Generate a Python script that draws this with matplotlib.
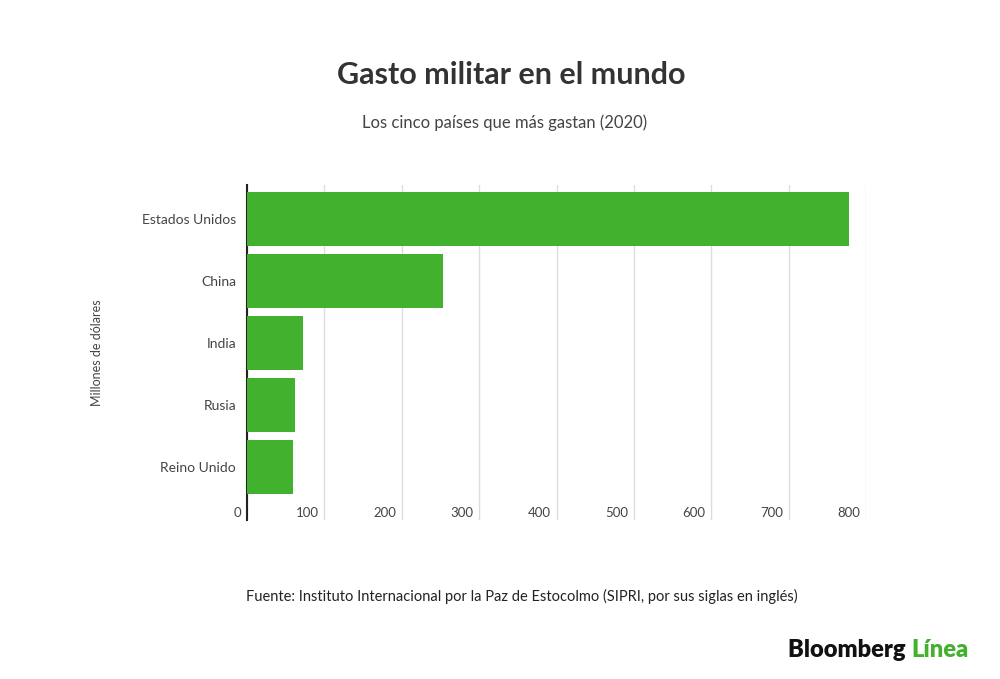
import matplotlib.pyplot as plt
from matplotlib.transforms import ScaledTranslation, blended_transform_factory

countries = ['Estados Unidos', 'China', 'India', 'Rusia', 'Reino Unido']
gasto = [778, 253, 73, 62, 59]
ticks = [0, 100, 200, 300, 400, 500, 600, 700, 800]

plt.rcParams['font.family'] = ['Lato', 'DejaVu Sans']
fig = plt.figure(figsize=(10, 6.79), dpi=100)
ax = fig.add_axes([0.247, 0.234, 0.619, 0.493])

y = list(range(len(countries)))
ax.barh(y, gasto, height=0.87, color='#42b12e', zorder=3)
ax.set_yticks(y)
ax.set_yticklabels(countries, fontsize=10, color='#444444')
ax.set_ylim(4.85, -0.55)
ax.set_xlim(0, 800)
ax.set_xticks(ticks)
ax.set_xticklabels([])
trans = blended_transform_factory(ax.transData, ax.transAxes) + \
    ScaledTranslation(-4 / 72, 0, fig.dpi_scale_trans)
for t in ticks:
    ax.text(t, 0.02, str(t), transform=trans, ha='right', va='center',
            fontsize=9.5, color='#444444')
ax.tick_params(axis='x', length=0)
ax.tick_params(axis='y', length=0, pad=8)
ax.grid(axis='x', color='#dddddd', linewidth=1, zorder=0)
for s in ['top', 'right', 'bottom']:
    ax.spines[s].set_visible(False)
ax.spines['left'].set_color('#222222')
ax.spines['left'].set_linewidth(1.5)
ax.set_ylabel('Millones de dólares', fontsize=9, color='#444444', labelpad=28)

fig.text(0.511, 0.89, 'Gasto militar en el mundo', ha='center', va='center',
         fontsize=22, fontweight='bold', color='#333333')
fig.text(0.505, 0.819, 'Los cinco países que más gastan (2020)', ha='center', va='center',
         fontsize=12, color='#444444')
fig.text(0.246, 0.122, 'Fuente: Instituto Internacional por la Paz de Estocolmo (SIPRI, por sus siglas en inglés)',
         ha='left', va='center', fontsize=10.5, color='#222222')
fig.text(0.911, 0.043, 'Bloomberg ', ha='right', va='center', fontsize=17,
         fontweight='heavy', color='#111111')
fig.text(0.911, 0.043, 'Línea', ha='left', va='center', fontsize=17,
         fontweight='heavy', color='#42b12e')

fig.savefig('out.png', dpi=100, facecolor='white')
